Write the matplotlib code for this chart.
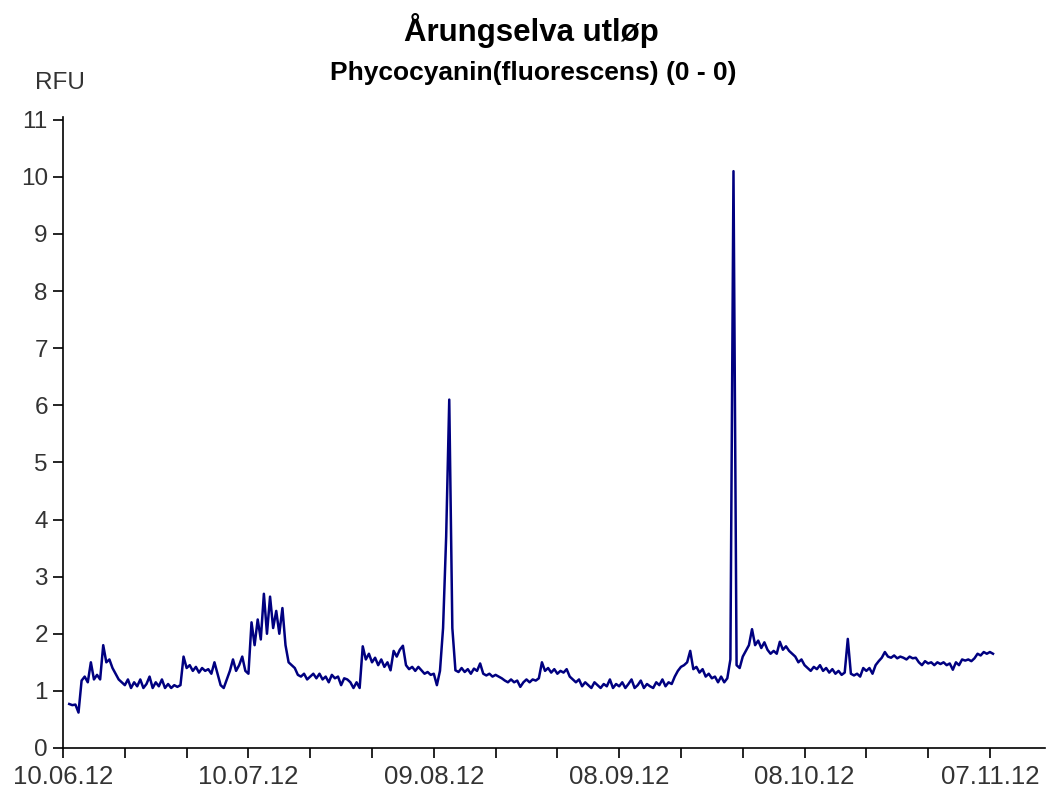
import numpy as np
import pandas as pd
import matplotlib
matplotlib.use("Agg")
import matplotlib.pyplot as plt
import matplotlib.dates as mdates

plt.rcParams['font.family'] = ['Liberation Sans', 'DejaVu Sans']

# RFU readings, one every 12 hours starting 11.06.2012 00:00
rfu = [
    0.77, 0.75, 0.76, 0.62, 1.18, 1.25, 1.15, 1.50, 1.20, 1.28, 1.20, 1.80, 1.50, 1.55, 1.40, 1.30, 1.20, 1.15, 1.10, 1.20,
    1.05, 1.15, 1.08, 1.20, 1.05, 1.12, 1.25, 1.05, 1.15, 1.08, 1.20, 1.05, 1.12, 1.05, 1.10, 1.07, 1.10, 1.60, 1.40, 1.45,
    1.35, 1.42, 1.32, 1.40, 1.35, 1.38, 1.30, 1.50, 1.30, 1.10, 1.05, 1.20, 1.35, 1.55, 1.35, 1.45, 1.60, 1.35, 1.30, 2.20,
    1.80, 2.25, 1.90, 2.70, 2.00, 2.65, 2.10, 2.40, 2.00, 2.45, 1.80, 1.50, 1.45, 1.40, 1.28, 1.25, 1.30, 1.20, 1.25, 1.30,
    1.22, 1.30, 1.20, 1.25, 1.15, 1.28, 1.22, 1.25, 1.10, 1.22, 1.20, 1.15, 1.05, 1.15, 1.05, 1.78, 1.55, 1.65, 1.50, 1.58,
    1.45, 1.55, 1.42, 1.50, 1.36, 1.70, 1.60, 1.72, 1.79, 1.45, 1.38, 1.42, 1.35, 1.42, 1.36, 1.30, 1.33, 1.28, 1.30, 1.10,
    1.35, 2.10, 3.70, 6.10, 2.10, 1.36, 1.33, 1.40, 1.33, 1.38, 1.30, 1.39, 1.35, 1.48, 1.30, 1.27, 1.30, 1.25, 1.28, 1.25,
    1.22, 1.18, 1.15, 1.20, 1.15, 1.18, 1.07, 1.15, 1.20, 1.15, 1.20, 1.18, 1.22, 1.50, 1.35, 1.40, 1.32, 1.38, 1.30, 1.35,
    1.32, 1.38, 1.25, 1.20, 1.15, 1.20, 1.08, 1.15, 1.10, 1.05, 1.15, 1.10, 1.05, 1.12, 1.08, 1.20, 1.05, 1.12, 1.08, 1.15,
    1.05, 1.12, 1.20, 1.05, 1.10, 1.18, 1.05, 1.12, 1.08, 1.05, 1.15, 1.10, 1.20, 1.08, 1.15, 1.12, 1.25, 1.35, 1.42, 1.45,
    1.50, 1.70, 1.38, 1.42, 1.32, 1.38, 1.25, 1.30, 1.22, 1.25, 1.15, 1.25, 1.15, 1.22, 1.55, 10.10, 1.45, 1.40, 1.60, 1.70,
    1.80, 2.08, 1.80, 1.88, 1.75, 1.85, 1.72, 1.65, 1.70, 1.65, 1.86, 1.72, 1.78, 1.70, 1.65, 1.60, 1.50, 1.55, 1.45, 1.40,
    1.35, 1.42, 1.38, 1.45, 1.35, 1.40, 1.32, 1.38, 1.30, 1.35, 1.28, 1.32, 1.91, 1.30, 1.27, 1.30, 1.25, 1.40, 1.35, 1.40,
    1.30, 1.45, 1.52, 1.58, 1.68, 1.60, 1.58, 1.62, 1.57, 1.60, 1.58, 1.55, 1.60, 1.57, 1.58, 1.50, 1.45, 1.52, 1.48, 1.50,
    1.45, 1.50, 1.47, 1.50, 1.45, 1.48, 1.37, 1.50, 1.45, 1.55, 1.53, 1.55, 1.52, 1.57, 1.65, 1.62, 1.68, 1.65, 1.68, 1.65,
]
times = pd.date_range('2012-06-11', periods=len(rfu), freq='12h')

tick_dates = pd.date_range('2012-06-10', '2012-11-15', freq='10D')
label_every = 3

fig = plt.figure(figsize=(10.51, 7.90), dpi=100)
ax = fig.add_axes([0.060, 0.0532, 0.9343, 0.7988])

ax.plot(times, rfu, color='#000080', lw=1.8)

ax.set_xlim(pd.Timestamp('2012-06-10'), pd.Timestamp('2012-11-15 22:00'))
ax.set_ylim(0, 11.05)
ax.set_yticks(range(0, 12))

ax.set_xticks(tick_dates)
ax.set_xticklabels([d.strftime('%d.%m.%y') if i % label_every == 0 else ''
                    for i, d in enumerate(tick_dates)])

for s in ['top', 'right']:
    ax.spines[s].set_visible(False)
for s in ['left', 'bottom']:
    ax.spines[s].set_linewidth(1.2)
ax.tick_params(direction='out', length=7, width=1.2, labelsize=18.5,
               labelcolor='#333333')
ax.tick_params(axis='x', pad=5)
ax.tick_params(axis='y', pad=4, labelsize=17.5)

fig.text(0.506, 0.962, 'Årungselva utløp', ha='center', va='center',
         fontsize=22.5, fontweight='bold')
fig.text(0.507, 0.908, 'Phycocyanin(fluorescens) (0 - 0)', ha='center',
         va='center', fontsize=19, fontweight='bold')
fig.text(0.033, 0.895, 'RFU', ha='left', va='center', fontsize=17.5,
         color='#333333')

fig.savefig('out.png', dpi=100)
